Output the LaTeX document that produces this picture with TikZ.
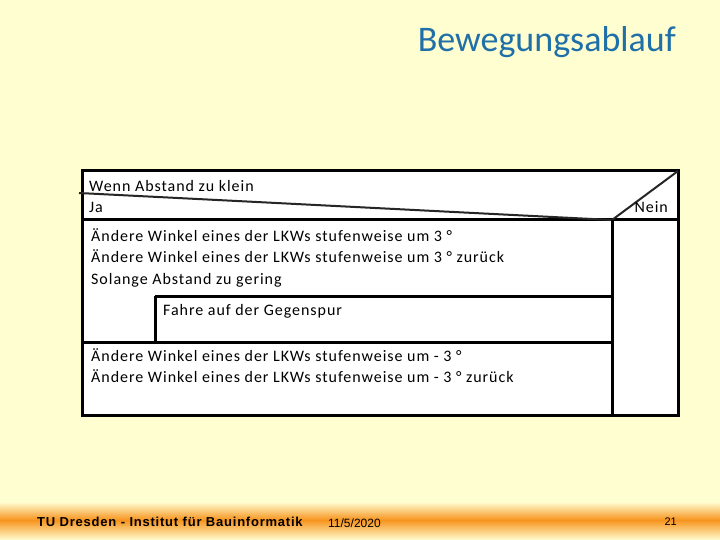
\documentclass[tikz,border=0pt]{standalone}
\usepackage{fontspec}
\setmainfont[LetterSpace=6]{Carlito}
\newfontfamily\titlefont{Carlito}
\newfontfamily\footfont[LetterSpace=6]{Liberation Sans}
\newfontfamily\datefont{Liberation Sans}
\usetikzlibrary{positioning}
\definecolor{slidebg}{RGB}{255,254,208}
\definecolor{titleblue}{RGB}{31,111,168}
\definecolor{footorange}{RGB}{247,148,30}
\tikzstyle{frame}=[line width=3pt,black]
\tikzstyle{slant}=[line width=2pt,black!85]
\tikzstyle{txt}=[inner sep=0pt,font=\fontsize{16}{21.5}\selectfont]
\tikzstyle{foot}=[inner sep=0pt,font=\datefont\fontsize{12}{14}\selectfont]

\begin{document}
\begin{tikzpicture}[x=1pt,y=-1pt]
    \useasboundingbox (0,0) rectangle (720,540);
    % slide background and footer band
    \fill[slidebg] (0,0) rectangle (720,540);
    \shade[top color=slidebg,bottom color=footorange] (0,502) rectangle (720,520);
    \shade[top color=footorange,bottom color=slidebg] (0,520) rectangle (720,540);
    \node[anchor=east,inner sep=0pt,text=titleblue,font=\titlefont\fontsize{36}{40}\selectfont] (title) at (676,42) {Bewegungsablauf};
    % corners of the structogram
    \coordinate (tl) at (82,171);
    \coordinate (tr) at (678,171);
    \coordinate (bl) at (82,415);
    \coordinate (br) at (678,415);
    \coordinate (sl) at (79,193);
    \coordinate (split) at (612,220);
    \coordinate (ml) at (82,220);
    \coordinate (mr) at (678,220);
    \coordinate (splitb) at (612,415);
    \coordinate (gtl) at (155,296);
    \coordinate (gtr) at (612,296);
    \coordinate (gbl) at (155,342);
    \coordinate (l2) at (82,342);
    \coordinate (r2) at (612,342);
    \fill[white] (tl) rectangle (br);
    \draw[frame] (tl) -- (tr) -- (br) -- (bl) -- cycle;
    \draw[frame] (ml) -- (mr);
    \draw[slant] (sl) -- (split);
    \draw[slant] (split) -- (tr);
    \draw[frame] (split) -- (splitb);
    \draw[frame] (gtl) -- (gtr);
    \draw[frame] (gtl) -- (gbl);
    \draw[frame] (l2) -- (r2);
    % texts
    \node[txt,anchor=west] (cond) at (89,186) {Wenn Abstand zu klein};
    \node[txt,anchor=west] (ja) at (89,207) {Ja};
    \node[txt,anchor=east] (nein) at (668,207) {Nein};
    \node[txt,anchor=north west,align=left] (step1) at (91,228) {Ändere Winkel eines der LKWs stufenweise um 3 °\\Ändere Winkel eines der LKWs stufenweise um 3 ° zurück\\Solange Abstand zu gering};
    \node[txt,anchor=west] (gegen) at (163,311) {Fahre auf der Gegenspur};
    \node[txt,anchor=north west,align=left] (step2) at (91,348) {Ändere Winkel eines der LKWs stufenweise um - 3 °\\Ändere Winkel eines der LKWs stufenweise um - 3 ° zurück};
    % footer
    \node[foot,anchor=west,font=\footfont\bfseries\fontsize{13}{14}\selectfont] (inst) at (37,522) {TU Dresden - Institut für Bauinformatik};
    \node[foot,anchor=west] (date) at (328,523) {11/5/2020};
    \node[foot,anchor=east,font=\datefont\fontsize{11}{12}\selectfont] (page) at (677,522) {21};
\end{tikzpicture}
\end{document}
